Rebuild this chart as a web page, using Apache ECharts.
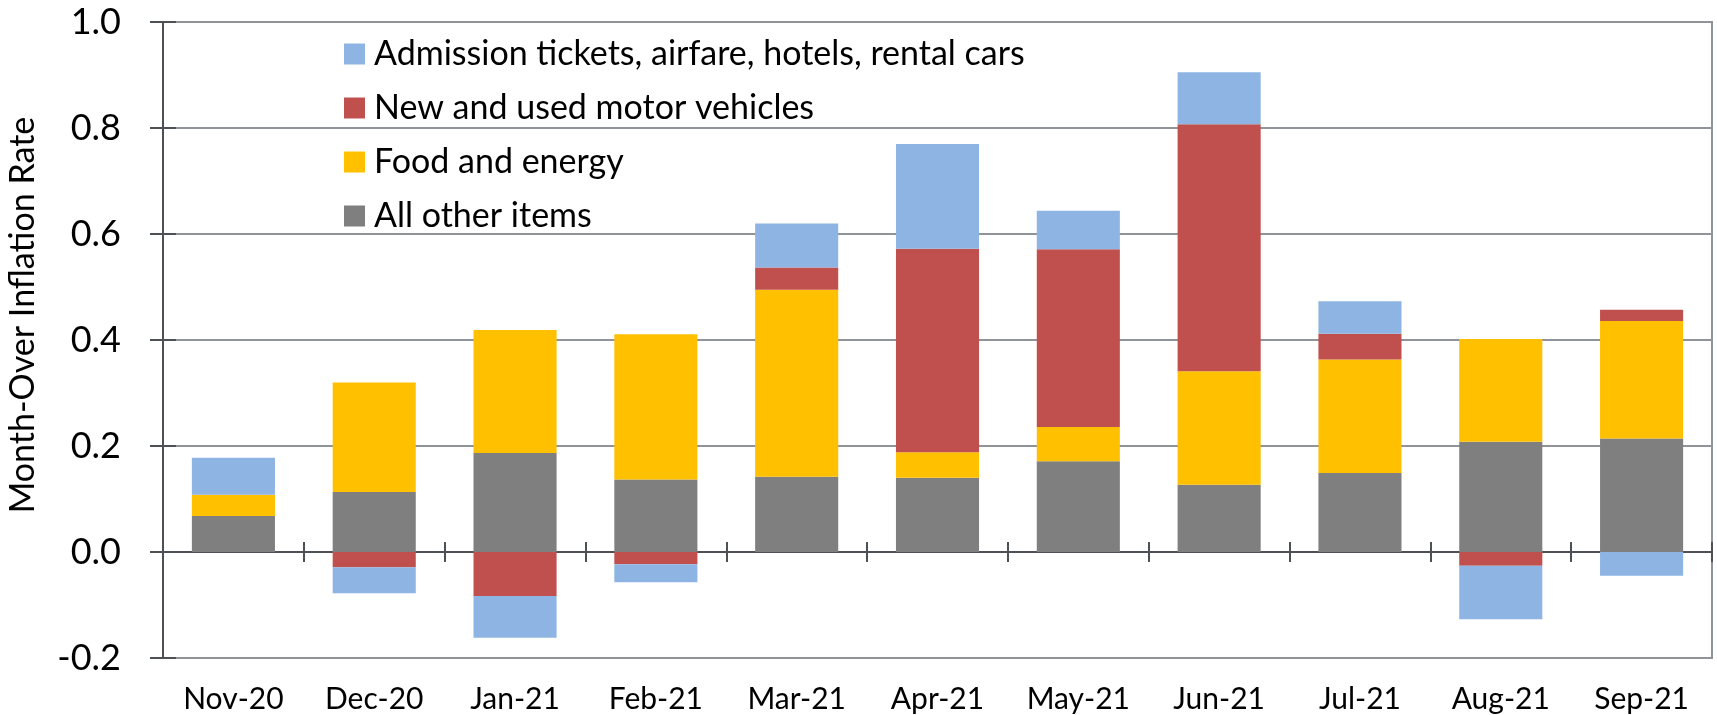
<!DOCTYPE html>
<html>
<head>
<meta charset="utf-8">
<script src="https://cdn.jsdelivr.net/npm/echarts@6/dist/echarts.min.js"></script>
<style>
html,body{margin:0;padding:0;background:#fff;}
#chart{width:1717px;height:715px;}
</style>
</head>
<body>
<div id="chart"></div>
<script>
const categories = ['Nov-20','Dec-20','Jan-21','Feb-21','Mar-21','Apr-21','May-21','Jun-21','Jul-21','Aug-21','Sep-21'];
const allOther   = [0.068, 0.113, 0.187, 0.137, 0.142, 0.140, 0.171, 0.127, 0.149, 0.208, 0.214];
const foodEnergy = [0.040, 0.207, 0.232, 0.274, 0.353, 0.048, 0.065, 0.214, 0.214, 0.194, 0.222];
const vehicles   = [0.000, -0.029, -0.083, -0.023, 0.042, 0.384, 0.335, 0.466, 0.049, -0.026, 0.021];
const admission  = [0.070, -0.049, -0.079, -0.034, 0.083, 0.198, 0.073, 0.098, 0.061, -0.101, -0.045];
const seriesNames = ['Admission tickets, airfare, hotels, rental cars','New and used motor vehicles','Food and energy','All other items'];
const yAxisTitle = 'Month-Over Inflation Rate';

const FONT = 'Lato';
const DARK = '#4d5156';
const GRIDC = '#8f939a';

const chart = echarts.init(document.getElementById('chart'), null, {renderer:'canvas'});
const gridW = 1717 - 163 - 5;

function bar(name, data, color){
  return {name, type:'bar', stack:'total', data, xAxisIndex:0, yAxisIndex:0,
    barCategoryGap:'41%', itemStyle:{color}, emphasis:{disabled:true}};
}

chart.setOption({
  animation:false,
  backgroundColor:'#fff',
  grid:{left:163, right:5, top:22, bottom:57, outerBoundsMode:'none', containLabel:false,
        show:true, borderColor:GRIDC, borderWidth:2, backgroundColor:'transparent'},
  legend:{
    data:seriesNames,
    orient:'vertical', left:339, top:32,
    itemWidth:21, itemHeight:21, itemGap:20,
    icon:'rect',
    textStyle:{fontFamily:FONT, fontSize:34, color:'#000', padding:[0,0,0,4]},
    selectedMode:false
  },
  xAxis:[
    {type:'category', data:categories, position:'bottom',
     axisLine:{show:false, onZero:false},
     axisTick:{show:false},
     axisLabel:{margin:26, fontFamily:FONT, fontSize:30, color:'#000'},
     splitLine:{show:false}},
    {type:'category', data:categories, position:'bottom',
     axisLine:{show:true, onZero:true, lineStyle:{color:DARK, width:2}},
     axisTick:{show:true, length:10, lineStyle:{color:DARK, width:2}},
     axisLabel:{show:false}, splitLine:{show:false}},
    {type:'category', data:categories, position:'top',
     axisLine:{show:false, onZero:true},
     axisTick:{show:true, length:10, lineStyle:{color:DARK, width:2}},
     axisLabel:{show:false}, splitLine:{show:false}}
  ],
  yAxis:[
    {type:'value', min:-0.2, max:1.0, interval:0.2, position:'left',
     axisLine:{show:true, lineStyle:{color:DARK, width:2}},
     axisTick:{show:true, length:13, lineStyle:{color:DARK, width:2}},
     axisLabel:{margin:42, fontFamily:FONT, fontSize:36, color:'#000', formatter:v=>v.toFixed(1)},
     splitLine:{show:true, lineStyle:{color:GRIDC, width:2}}},
    {type:'value', min:-0.2, max:1.0, interval:0.2, position:'right', offset:-gridW,
     axisLine:{show:false},
     axisTick:{show:true, length:13, lineStyle:{color:DARK, width:2}},
     axisLabel:{show:false}, splitLine:{show:false}}
  ],
  graphic:[{
    type:'text', x:23, y:315, rotation:Math.PI/2,
    style:{text:yAxisTitle, fontFamily:FONT, fontSize:34, fill:'#000', align:'center', verticalAlign:'middle'}
  }],
  series:[
    bar(seriesNames[3], allOther, '#7f7f7f'),
    bar(seriesNames[2], foodEnergy, '#ffc000'),
    bar(seriesNames[1], vehicles, '#c0504d'),
    bar(seriesNames[0], admission, '#8eb4e3')
  ]
});
</script>
</body>
</html>
